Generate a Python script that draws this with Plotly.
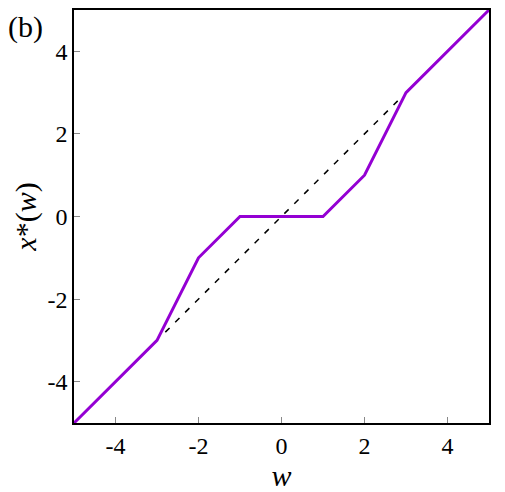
import plotly.graph_objects as go

w_vals = [-5, -3, -2, -1, 1, 2, 3, 5]
x_star = [-5, -3, -1, 0, 0, 1, 3, 5]
diag_w = [-2.8, 2.8]
diag_x = [-2.8, 2.8]
tick_vals = [-4, -2, 0, 2, 4]
tick_text = ["-4", "-2", "0", "2", "4"]

fig = go.Figure()
fig.add_trace(go.Scatter(x=diag_w, y=diag_x, mode="lines",
                         line=dict(color="black", width=1.5, dash="6px,8px"),
                         showlegend=False))
fig.add_trace(go.Scatter(x=w_vals, y=x_star, mode="lines",
                         line=dict(color="#9400D3", width=3),
                         showlegend=False))

fam = "Times New Roman, Liberation Serif, serif"
axis_common = dict(range=[-5, 5], tickmode="array", tickvals=tick_vals, ticktext=tick_text,
                   ticks="inside", ticklen=6, tickcolor="#888888",
                   showline=True, linecolor="black", linewidth=1.5, mirror=True,
                   showgrid=False, zeroline=False,
                   tickfont=dict(family=fam, size=24, color="black"))
fig.update_xaxes(**axis_common)
fig.update_yaxes(**axis_common)
fig.update_xaxes(title=dict(text="<i>w</i>", font=dict(family=fam, size=30, color="black"), standoff=4))
fig.update_yaxes(title=dict(text="<i>x</i>*(<i>w</i>)", font=dict(family=fam, size=30, color="black"), standoff=2))

fig.add_annotation(text="(b)", xref="paper", yref="paper", x=-0.165, y=1.005,
                   xanchor="left", yanchor="top", showarrow=False,
                   font=dict(family=fam, size=30, color="black"))

fig.update_layout(width=505, height=492, margin=dict(l=74, r=16, t=8, b=69),
                  font=dict(family=fam, color="black"),
                  plot_bgcolor="white", paper_bgcolor="white")
fig.write_html("out.html")
